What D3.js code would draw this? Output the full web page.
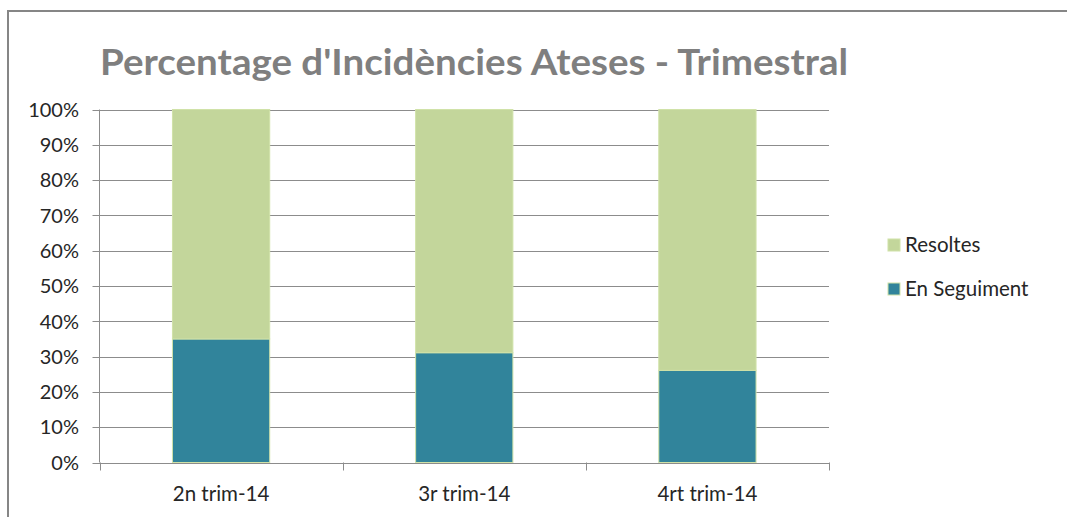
<!DOCTYPE html>
<html>
<head>
<meta charset="utf-8">
<script src="https://cdnjs.cloudflare.com/ajax/libs/d3/7.8.5/d3.min.js"></script>
<style>
  body { margin: 0; background: #fff; }
  text { font-family: Lato, "Open Sans", sans-serif; }
</style>
</head>
<body>
<svg width="1067" height="517"></svg>
<script>
// data
var categories = ["2n trim-14", "3r trim-14", "4rt trim-14"];
var enSeguiment = [0.35, 0.311, 0.261];
var resoltes = [0.65, 0.689, 0.739];
var seriesNames = ["En Seguiment", "Resoltes"];
var yTicks = [0, 0.1, 0.2, 0.3, 0.4, 0.5, 0.6, 0.7, 0.8, 0.9, 1];

var svg = d3.select("svg");
var plotLeft = 99.5, plotRight = 829, plotTop = 109.5, plotBottom = 462.5;

// outer frame
svg.append("path")
  .attr("d", "M8,517 L8,11 L1067,11")
  .attr("fill", "none").attr("stroke", "#868686").attr("stroke-width", 2);

// title
svg.append("text")
  .attr("x", 100).attr("y", 75)
  .attr("font-size", 36).attr("font-weight", "bold")
  .attr("fill", "#7f7f7f")
  .attr("textLength", 748).attr("lengthAdjust", "spacingAndGlyphs")
  .text("Percentage d'Incidències Ateses - Trimestral");

var x = d3.scaleBand().domain(categories).range([plotLeft, plotRight]).paddingInner(0.6).paddingOuter(0.3);
var xb = d3.scaleBand().domain(categories).range([plotLeft, plotRight]);
var y = d3.scaleLinear().domain([0, 1]).range([plotBottom, plotTop]);

// gridlines
svg.append("g").selectAll("line").data(yTicks).enter().append("line")
  .attr("x1", plotLeft - 7).attr("x2", plotRight)
  .attr("y1", function(d) { return Math.round(y(d)) + 0.5; })
  .attr("y2", function(d) { return Math.round(y(d)) + 0.5; })
  .attr("stroke", "#8c8c8c").attr("stroke-width", 1);

// y axis line
svg.append("line")
  .attr("x1", plotLeft).attr("x2", plotLeft).attr("y1", plotTop).attr("y2", plotBottom)
  .attr("stroke", "#8c8c8c");

// x axis category ticks
var bounds = categories.map(function(c) { return xb(c); }).concat([plotRight]);
svg.append("g").selectAll("line").data(bounds).enter().append("line")
  .attr("x1", function(d) { return Math.round(d) + 0.5; })
  .attr("x2", function(d) { return Math.round(d) + 0.5; })
  .attr("y1", plotBottom).attr("y2", plotBottom + 8)
  .attr("stroke", "#8c8c8c");

// y labels
svg.append("g").selectAll("text").data(yTicks).enter().append("text")
  .attr("x", 79).attr("y", function(d) { return y(d); })
  .attr("dy", "0.36em").attr("text-anchor", "end")
  .attr("font-size", 20).attr("fill", "#262626")
  .text(d3.format(".0%"));

// x labels
svg.append("g").selectAll("text").data(categories).enter().append("text")
  .attr("x", function(d) { return xb(d) + xb.bandwidth() / 2; })
  .attr("y", 501).attr("text-anchor", "middle")
  .attr("font-size", 20.5).attr("fill", "#262626")
  .text(function(d) { return d; });

// stacked bars
var rows = categories.map(function(c, i) {
  return { cat: c, "En Seguiment": enSeguiment[i], "Resoltes": resoltes[i] };
});
var stack = d3.stack().keys(seriesNames)(rows);
var color = d3.scaleOrdinal().domain(seriesNames).range(["#31849b", "#c3d69b"]);

svg.append("g").selectAll("g").data(stack).enter().append("g")
  .attr("fill", function(d) { return color(d.key); })
  .selectAll("rect").data(function(d) { return d; }).enter().append("rect")
  .attr("x", function(d) { return x(d.data.cat); })
  .attr("width", x.bandwidth())
  .attr("y", function(d) { return y(d[1]); })
  .attr("height", function(d) { return y(d[0]) - y(d[1]); })
  .attr("stroke", "#d0e2a8").attr("stroke-width", 1);

// legend
var legendItems = ["Resoltes", "En Seguiment"];
var legend = svg.append("g").selectAll("g").data(legendItems).enter().append("g")
  .attr("transform", function(d, i) { return "translate(888," + (245 + i * 44) + ")"; });
legend.append("rect")
  .attr("x", 0).attr("y", -6).attr("width", 12).attr("height", 12)
  .attr("fill", function(d) { return color(d); })
  .attr("stroke", "#d0e2a8");
legend.append("text")
  .attr("x", 17).attr("y", 0).attr("dy", "0.36em")
  .attr("font-size", 20.5).attr("fill", "#262626")
  .text(function(d) { return d; });
</script>
</body>
</html>
